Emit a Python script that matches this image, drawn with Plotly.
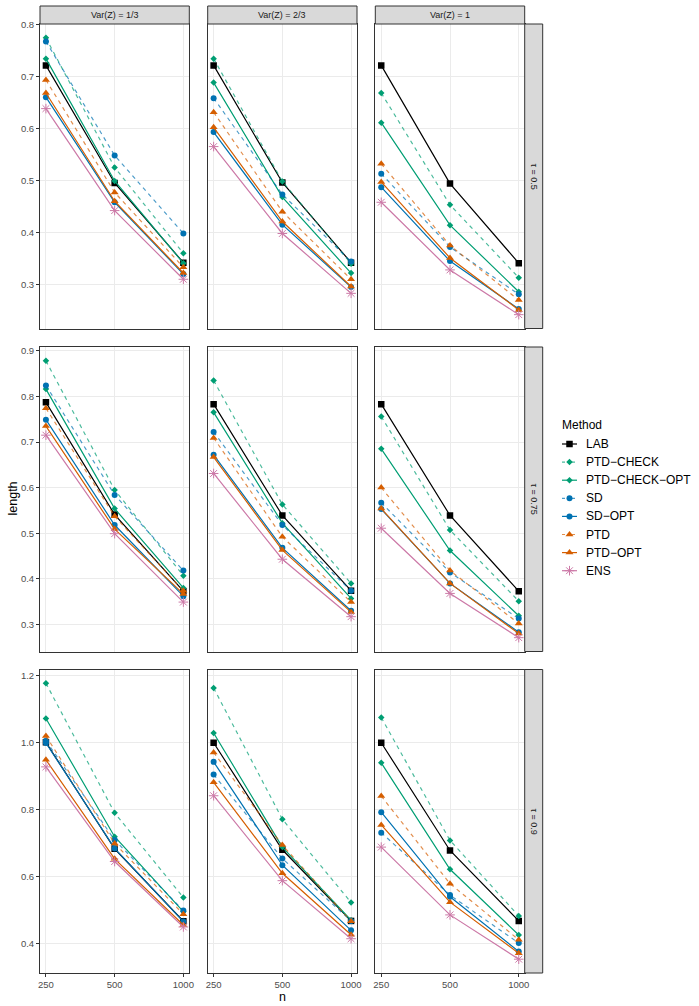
import plotly.graph_objects as go
import numpy as np

# ---------------- data ----------------
n_values = [250, 500, 1000]
tick_labels = ["250", "500", "1000"]
var_z_labels = ["Var(Z) = 1/3", "Var(Z) = 2/3", "Var(Z) = 1"]
tau_labels = ["τ = 0.5", "τ = 0.75", "τ = 0.9"]
methods = ["LAB", "PTD−CHECK", "PTD−CHECK−OPT", "SD", "SD−OPT", "PTD", "PTD−OPT", "ENS"]

# each list: panels in order (tau 0.5: VarZ 1/3, 2/3, 1; tau 0.75: ...; tau 0.9: ...)
LAB = [[0.721, 0.495, 0.342], [0.721, 0.496, 0.342], [0.721, 0.494, 0.341],
       [0.787, 0.541, 0.373], [0.783, 0.539, 0.374], [0.783, 0.539, 0.373],
       [1.000, 0.683, 0.467], [0.999, 0.680, 0.468], [0.999, 0.678, 0.468]]
PTD_CHECK = [[0.774, 0.525, 0.360], [0.734, 0.498, 0.340], [0.668, 0.453, 0.313],
             [0.878, 0.595, 0.407], [0.835, 0.563, 0.390], [0.756, 0.507, 0.351],
             [1.176, 0.790, 0.538], [1.162, 0.771, 0.523], [1.074, 0.708, 0.483]]
PTD_CHECK_OPT = [[0.734, 0.499, 0.341], [0.688, 0.468, 0.322], [0.611, 0.414, 0.286],
                 [0.816, 0.554, 0.380], [0.765, 0.522, 0.357], [0.685, 0.462, 0.319],
                 [1.071, 0.719, 0.496], [1.028, 0.688, 0.470], [0.939, 0.622, 0.426]]
SD = [[0.767, 0.548, 0.398], [0.658, 0.473, 0.344], [0.513, 0.372, 0.281],
      [0.824, 0.584, 0.418], [0.722, 0.518, 0.374], [0.567, 0.414, 0.313],
      [1.005, 0.709, 0.499], [0.904, 0.654, 0.468], [0.731, 0.545, 0.402]]
SD_OPT = [[0.660, 0.458, 0.320], [0.593, 0.415, 0.295], [0.487, 0.345, 0.253],
          [0.749, 0.518, 0.362], [0.672, 0.468, 0.330], [0.553, 0.390, 0.283],
          [0.998, 0.684, 0.466], [0.942, 0.634, 0.440], [0.792, 0.540, 0.377]]
PTD = [[0.693, 0.477, 0.333], [0.631, 0.440, 0.310], [0.532, 0.375, 0.270],
       [0.774, 0.537, 0.374], [0.709, 0.492, 0.349], [0.600, 0.418, 0.302],
       [1.019, 0.699, 0.488], [0.970, 0.694, 0.467], [0.840, 0.579, 0.412]]
PTD_OPT = [[0.668, 0.460, 0.322], [0.602, 0.421, 0.296], [0.497, 0.351, 0.251],
           [0.735, 0.509, 0.367], [0.667, 0.463, 0.327], [0.554, 0.390, 0.280],
           [0.948, 0.653, 0.456], [0.881, 0.610, 0.427], [0.754, 0.524, 0.372]]
ENS = [[0.638, 0.442, 0.310], [0.565, 0.398, 0.283], [0.458, 0.328, 0.242],
       [0.715, 0.499, 0.349], [0.631, 0.443, 0.317], [0.511, 0.368, 0.271],
       [0.927, 0.645, 0.450], [0.841, 0.588, 0.415], [0.688, 0.486, 0.354]]

series = [LAB, PTD_CHECK, PTD_CHECK_OPT, SD, SD_OPT, PTD, PTD_OPT, ENS]

# ---------------- styles ----------------
GREEN, BLUE, ORANGE, PINK = "#009E73", "#0072B2", "#D55E00", "#CC79A7"
style = {
    "LAB": dict(color="#000000", line="#000000", dash="solid", symbol="square", size=6.5),
    "PTD−CHECK": dict(color=GREEN, line="rgba(0,158,115,0.7)", dash="4px,4px", symbol="diamond", size=5),
    "PTD−CHECK−OPT": dict(color=GREEN, line=GREEN, dash="solid", symbol="diamond", size=5),
    "SD": dict(color=BLUE, line="rgba(0,114,178,0.7)", dash="4px,4px", symbol="circle", size=6),
    "SD−OPT": dict(color=BLUE, line=BLUE, dash="solid", symbol="circle", size=6),
    "PTD": dict(color=ORANGE, line="rgba(213,94,0,0.7)", dash="4px,4px", symbol="triangle-up", size=7),
    "PTD−OPT": dict(color=ORANGE, line=ORANGE, dash="solid", symbol="triangle-up", size=7),
    "ENS": dict(color=PINK, line=PINK, dash="solid", symbol="asterisk-open", size=8),
}

W, H = 699, 1006
col_px = [(40.0, 189.3), (207.7, 357.0), (375.3, 524.7)]
row_px = [(24.0, 328.5), (347.0, 651.5), (669.5, 973.0)]
strip_top = (6.0, 24.0)
strip_right = (524.7, 542.7)
legend_box = (550, 699, 405, 600)  # x0, x1, y0, y1 in pixels
legend_title_xy = (560, 425)
legend_key_x = (562, 577)
legend_text_x = 584
legend_y0, legend_dy = 444, 18.1


def fx(p):
    return p / W


def fy(p):
    return 1 - p / H


FONT = "Liberation Sans, Arial, Helvetica, sans-serif"
fig = go.Figure()

xr = [np.log10(250) - 0.026, np.log10(1000) + 0.026]
row_ticks = [[0.3, 0.4, 0.5, 0.6, 0.7, 0.8],
             [0.3, 0.4, 0.5, 0.6, 0.7, 0.8, 0.9],
             [0.4, 0.6, 0.8, 1.0, 1.2]]


def marker_for(m):
    st = style[m]
    return dict(symbol=st["symbol"], size=st["size"], color=st["color"],
                line=dict(width=1 if m == "ENS" else 0, color=st["color"]))


for r in range(3):
    vals = np.array([s[r * 3 + c] for s in series for c in range(3)])
    lo, hi = vals.min(), vals.max()
    pad = 0.05 * (hi - lo)
    yr = [lo - pad, hi + pad]
    for c in range(3):
        k = r * 3 + c
        ax = "" if k == 0 else str(k + 1)
        for m, s in zip(methods, series):
            st = style[m]
            fig.add_trace(go.Scatter(
                x=n_values, y=s[k], mode="lines+markers", name=m, showlegend=False,
                line=dict(color=st["line"], width=1.2, dash=st["dash"]),
                marker=marker_for(m), hoverinfo="skip",
                xaxis="x" + ax, yaxis="y" + ax,
            ))
        x0, x1 = col_px[c]
        y0, y1 = row_px[r]
        fig.layout["xaxis" + ax] = dict(
            domain=[fx(x0), fx(x1)], anchor="y" + ax, type="log", range=xr,
            tickvals=n_values, ticktext=tick_labels, showticklabels=(r == 2),
            ticks="outside" if r == 2 else "", ticklen=3, tickwidth=1, tickcolor="#333333",
            tickfont=dict(family=FONT, size=9.5, color="#4D4D4D"),
            showgrid=True, gridcolor="#EBEBEB", gridwidth=1, zeroline=False,
            showline=True, mirror=True, linecolor="#333333", linewidth=1, fixedrange=True,
        )
        fig.layout["yaxis" + ax] = dict(
            domain=[fy(y1), fy(y0)], anchor="x" + ax, range=yr,
            tickvals=row_ticks[r], tickformat=".1f", showticklabels=(c == 0),
            ticks="outside" if c == 0 else "", ticklen=3, tickwidth=1, tickcolor="#333333",
            tickfont=dict(family=FONT, size=9.5, color="#4D4D4D"),
            showgrid=True, gridcolor="#EBEBEB", gridwidth=1, zeroline=False,
            showline=True, mirror=True, linecolor="#333333", linewidth=1, fixedrange=True,
        )

# ---------------- legend (drawn on a hidden pixel-unit axis in its own box) ----------------
lx0, lx1, ly0, ly1 = legend_box
fig.layout["xaxis10"] = dict(domain=[fx(lx0), fx(lx1)], range=[lx0, lx1], visible=False,
                             fixedrange=True, anchor="y10")
fig.layout["yaxis10"] = dict(domain=[fy(ly1), fy(ly0)], range=[ly1, ly0], visible=False,
                             fixedrange=True, anchor="x10")
annotations = []
for i, m in enumerate(methods):
    st = style[m]
    ly = legend_y0 + i * legend_dy
    fig.add_trace(go.Scatter(
        x=list(legend_key_x), y=[ly, ly], mode="lines", showlegend=False, hoverinfo="skip",
        line=dict(color=st["line"], width=1.2, dash="3px,2px" if st["dash"] != "solid" else "solid"),
        xaxis="x10", yaxis="y10"))
    fig.add_trace(go.Scatter(
        x=[sum(legend_key_x) / 2], y=[ly], mode="markers", showlegend=False, hoverinfo="skip",
        marker=marker_for(m), xaxis="x10", yaxis="y10"))
    annotations.append(dict(xref="paper", yref="paper", x=fx(legend_text_x), y=fy(ly),
                            text=m, showarrow=False, xanchor="left", yanchor="middle",
                            font=dict(family=FONT, size=12, color="#000000")))
annotations.append(dict(xref="paper", yref="paper", x=fx(legend_title_xy[0]),
                        y=fy(legend_title_xy[1]), text="Method", showarrow=False,
                        xanchor="left", yanchor="middle",
                        font=dict(family=FONT, size=12, color="#000000")))

shapes = []
for c in range(3):
    x0, x1 = col_px[c]
    shapes.append(dict(type="rect", xref="paper", yref="paper",
                       x0=fx(x0), x1=fx(x1), y0=fy(strip_top[1]), y1=fy(strip_top[0]),
                       fillcolor="#D9D9D9", line=dict(color="#333333", width=1)))
    annotations.append(dict(xref="paper", yref="paper", x=fx((x0 + x1) / 2),
                            y=fy(sum(strip_top) / 2), text=var_z_labels[c], showarrow=False,
                            font=dict(family=FONT, size=9, color="#1A1A1A"),
                            xanchor="center", yanchor="middle"))
for r in range(3):
    y0, y1 = row_px[r]
    shapes.append(dict(type="rect", xref="paper", yref="paper",
                       x0=fx(strip_right[0]), x1=fx(strip_right[1]), y0=fy(y1), y1=fy(y0),
                       fillcolor="#D9D9D9", line=dict(color="#333333", width=1)))
    annotations.append(dict(xref="paper", yref="paper", x=fx(sum(strip_right) / 2),
                            y=fy((y0 + y1) / 2), text=tau_labels[r], showarrow=False,
                            textangle=90, font=dict(family=FONT, size=9, color="#1A1A1A"),
                            xanchor="center", yanchor="middle"))

annotations.append(dict(xref="paper", yref="paper", x=fx(12), y=fy(498.5), text="length",
                        showarrow=False, textangle=-90,
                        font=dict(family=FONT, size=12.5, color="#000000"),
                        xanchor="center", yanchor="middle"))
annotations.append(dict(xref="paper", yref="paper", x=fx(282.5), y=fy(997), text="n",
                        showarrow=False, font=dict(family=FONT, size=12.5, color="#000000"),
                        xanchor="center", yanchor="middle"))

fig.update_layout(
    width=W, height=H, margin=dict(l=0, r=0, t=0, b=0, autoexpand=False),
    paper_bgcolor="white", plot_bgcolor="rgba(0,0,0,0)",
    shapes=shapes, annotations=annotations,
    font=dict(family=FONT), showlegend=False,
)

fig.write_html("out.html")
